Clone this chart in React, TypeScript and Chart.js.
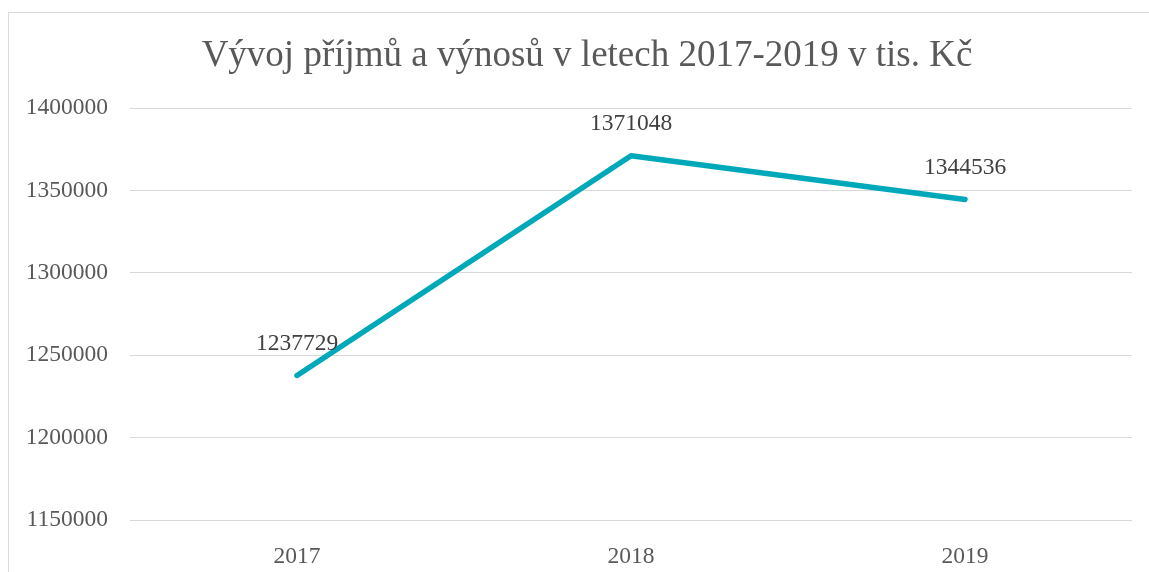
import React, { useEffect, useRef } from "react";
import { Chart, registerables } from "chart.js";

Chart.register(...registerables);

const title = "Vývoj příjmů a výnosů v letech 2017-2019 v tis. Kč";
const categories = ["2017", "2018", "2019"];
const values = [1237729, 1371048, 1344536];
const yMin = 1150000;
const yMax = 1400000;
const yStep = 50000;

const FONT = "'Liberation Serif', 'Times New Roman', serif";
const LABEL_SIZE = 23.5;

const titlePlugin = {
  id: "customTitle",
  afterDraw(chart: any) {
    const ctx = chart.ctx;
    ctx.save();
    ctx.font = `37px ${FONT}`;
    ctx.fillStyle = "#595959";
    ctx.textAlign = "center";
    ctx.textBaseline = "middle";
    ctx.fillText(title, 578, 43);
    ctx.restore();
  },
};

const dataLabelPlugin = {
  id: "dataLabels",
  afterDatasetsDraw(chart: any) {
    const ctx = chart.ctx;
    const meta = chart.getDatasetMeta(0);
    ctx.save();
    ctx.font = `${LABEL_SIZE}px ${FONT}`;
    ctx.fillStyle = "#404040";
    ctx.textAlign = "center";
    ctx.textBaseline = "middle";
    meta.data.forEach((pt: any, i: number) => {
      ctx.fillText(String(values[i]), pt.x, pt.y - 32);
    });
    ctx.restore();
  },
};

export default function App() {
  const ref = useRef<HTMLCanvasElement | null>(null);
  useEffect(() => {
    document.body.style.overflow = "hidden";
    document.documentElement.style.overflow = "hidden";
    const chart = new Chart(ref.current!, {
      type: "line",
      data: {
        labels: categories,
        datasets: [
          {
            data: values,
            borderColor: "#00A9BA",
            backgroundColor: "#00A9BA",
            borderWidth: 5.5,
            borderCapStyle: "round",
            borderJoinStyle: "round",
            pointRadius: 0,
            tension: 0,
          },
        ],
      },
      options: {
        animation: false,
        responsive: false,
        layout: { padding: { left: 0, right: 17, top: 95, bottom: 0 } },
        plugins: {
          legend: { display: false },
          tooltip: { enabled: false },
          title: { display: false },
        },
        scales: {
          x: {
            offset: true,
            grid: { display: false },
            border: { display: false },
            ticks: {
              color: "#595959",
              font: { family: FONT, size: LABEL_SIZE },
              padding: 15,
            },
            afterFit(scale: any) {
              scale.height = 53;
            },
          },
          y: {
            min: yMin,
            max: yMax,
            border: { display: false },
            grid: { color: "#d9d9d9", lineWidth: 1, drawTicks: false },
            ticks: {
              stepSize: yStep,
              color: "#595959",
              font: { family: FONT, size: LABEL_SIZE },
              padding: 22,
              callback: (v: any) => String(v),
            },
            afterFit(scale: any) {
              scale.width = 121;
            },
          },
        },
      },
      plugins: [dataLabelPlugin, titlePlugin],
    } as any);
    return () => chart.destroy();
  }, []);
  return (
    <div
      style={{
        position: "absolute",
        left: 8,
        top: 12,
        width: 1141,
        height: 560,
        borderTop: "1px solid #d9d9d9",
        borderLeft: "1px solid #d9d9d9",
        boxSizing: "border-box",
        overflow: "hidden",
      }}
    >
      <canvas ref={ref} width={1140} height={560} style={{ display: "block" }} />
    </div>
  );
}
